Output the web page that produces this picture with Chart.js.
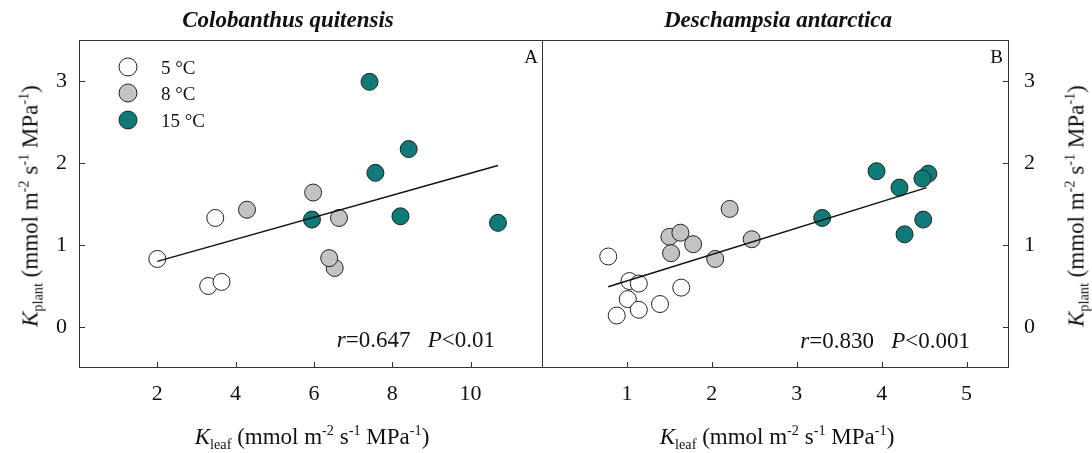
<!DOCTYPE html>
<html>
<head>
<meta charset="utf-8">
<script src="https://cdn.jsdelivr.net/npm/chart.js@4"></script>
<style>
  body { margin: 0; background: #fff; }
  #wrap { position: relative; width: 1092px; height: 453px; font-family: 'Liberation Serif', 'Times New Roman', serif; color: #111; }
  .box { position: absolute; top: 0; height: 453px; }
  .txt { position: absolute; white-space: nowrap; line-height: 1; }
  .ctr { transform: translate(-50%, -50%); }
  .rot { transform: translate(-50%, -50%) rotate(-90deg); }
  sub, sup { font-size: 0.62em; line-height: 0; position: relative; vertical-align: baseline; }
  sub { top: 0.35em; }
  sup { top: -0.6em; }
  .title { font-size: 23px; font-weight: bold; font-style: italic; }
  .axt { font-size: 23px; }
  .stat { font-size: 23px; transform: translate(-100%, -50%); }
  .dot { position: absolute; width: 17px; height: 17px; border-radius: 50%; border: 1px solid #222; transform: translate(-50%, -50%); }
  .leg { font-size: 19px; transform: translate(0, -50%); }
</style>
</head>
<body>
<div id="wrap">
  <div class="box" style="left:0;width:545px"><canvas id="chartA"></canvas></div>
  <div class="box" style="left:541px;width:551px"><canvas id="chartB"></canvas></div>

  <div class="txt title ctr" style="left:288px;top:19px">Colobanthus quitensis</div>
  <div class="txt title ctr" style="left:778px;top:19px">Deschampsia antarctica</div>

  <div class="txt axt ctr" style="left:312px;top:436px"><i>K</i><sub>leaf</sub> (mmol m<sup>-2</sup> s<sup>-1</sup> MPa<sup>-1</sup>)</div>
  <div class="txt axt ctr" style="left:777px;top:436px"><i>K</i><sub>leaf</sub> (mmol m<sup>-2</sup> s<sup>-1</sup> MPa<sup>-1</sup>)</div>

  <div class="txt axt rot" style="left:30px;top:206px"><i>K</i><sub>plant</sub> (mmol m<sup>-2</sup> s<sup>-1</sup> MPa<sup>-1</sup>)</div>
  <div class="txt axt rot" style="left:1076px;top:206px"><i>K</i><sub>plant</sub> (mmol m<sup>-2</sup> s<sup>-1</sup> MPa<sup>-1</sup>)</div>

  <div class="txt stat" style="left:495px;top:339px"><i>r</i>=0.647&nbsp;&nbsp;&nbsp;<i>P</i>&lt;0.01</div>
  <div class="txt stat" style="left:970px;top:340px"><i>r</i>=0.830&nbsp;&nbsp;&nbsp;<i>P</i>&lt;0.001</div>

  <div class="txt" style="left:538px;top:56px;font-size:19px;transform:translate(-100%,-50%)">A</div>
  <div class="txt" style="left:1003px;top:56px;font-size:19px;transform:translate(-100%,-50%)">B</div>

  <div id="legend"></div>
</div>

<script>
// temperature groups
const groups = ['5 °C', '8 °C', '15 °C'];
const fills = ['#ffffff', '#c3c3c3', '#0e7b78'];

// panel A, Colobanthus quitensis
const cqX5 = [2.0, 3.48, 3.30, 3.64];
const cqY5 = [0.83, 1.33, 0.50, 0.55];
const cqX8 = [4.29, 5.98, 6.64, 6.53, 6.39];
const cqY8 = [1.43, 1.64, 1.33, 0.72, 0.84];
const cqX15 = [5.95, 7.42, 8.42, 7.57, 8.21, 10.70];
const cqY15 = [1.31, 2.99, 2.17, 1.88, 1.35, 1.27];
const cqFitX = [2.0, 10.7];
const cqFitY = [0.80, 1.97];

// panel B, Deschampsia antarctica
const daX5 = [0.78, 1.03, 1.14, 1.01, 1.14, 0.88, 1.39, 1.64];
const daY5 = [0.86, 0.56, 0.53, 0.34, 0.21, 0.14, 0.28, 0.48];
const daX8 = [1.50, 1.63, 1.52, 1.78, 2.21, 2.04, 2.47];
const daY8 = [1.10, 1.15, 0.90, 1.01, 1.44, 0.83, 1.07];
const daX15 = [3.94, 4.21, 4.55, 4.48, 4.49, 4.27, 3.30];
const daY15 = [1.90, 1.70, 1.87, 1.81, 1.31, 1.13, 1.33];
const daFitX = [0.78, 4.53];
const daFitY = [0.49, 1.70];

const xTicksA = [2, 4, 6, 8, 10];
const xTicksB = [1, 2, 3, 4, 5];
const yTicks = [0, 1, 2, 3];

const FONT = "'Liberation Serif', 'Times New Roman', serif";
const zip = (xs, ys) => xs.map((x, i) => ({ x: x, y: ys[i] }));

function pointSet(xs, ys, g) {
  return {
    type: 'scatter', data: zip(xs, ys), order: 3 - g,
    backgroundColor: fills[g], borderColor: '#222', borderWidth: 1,
    pointRadius: 8.5, pointHoverRadius: 8.5
  };
}

function fitSet(xs, ys) {
  return {
    type: 'line', data: zip(xs, ys), order: 0,
    borderColor: '#111', borderWidth: 1.5, pointRadius: 0, fill: false
  };
}

// frame box and inward tick marks, placed with the chart's own scales
const framePlugin = {
  id: 'frame',
  beforeDatasetsDraw(chart) {
    const { ctx, chartArea: a, scales } = chart;
    ctx.save();
    ctx.strokeStyle = '#333';
    ctx.lineWidth = 1;
    ctx.strokeRect(Math.round(a.left) + 0.5, Math.round(a.top) + 0.5,
                   Math.round(a.right - a.left) - 1, Math.round(a.bottom - a.top) - 1);
    ctx.beginPath();
    scales.x.ticks.forEach(t => {
      const px = Math.round(scales.x.getPixelForValue(t.value)) + 0.5;
      ctx.moveTo(px, a.bottom);
      ctx.lineTo(px, a.bottom - 6);
    });
    const onRight = scales.y.position === 'right';
    scales.y.ticks.forEach(t => {
      const py = Math.round(scales.y.getPixelForValue(t.value)) + 0.5;
      const x0 = onRight ? a.right : a.left;
      ctx.moveTo(x0, py);
      ctx.lineTo(onRight ? x0 - 6 : x0 + 6, py);
    });
    ctx.stroke();
    ctx.restore();
  }
};

function makeChart(id, datasets, xMax, xTicks, yPos, yWidth, pad) {
  return new Chart(document.getElementById(id), {
    data: { datasets: datasets },
    options: {
      responsive: true, maintainAspectRatio: false, animation: false,
      layout: { padding: pad, autoPadding: false },
      plugins: { legend: { display: false }, tooltip: { enabled: false } },
      scales: {
        x: {
          type: 'linear', position: 'bottom', min: 0, max: xMax,
          grid: { display: false, drawTicks: false }, border: { display: false },
          ticks: { color: '#111', font: { family: FONT, size: 22 }, padding: 13 },
          afterBuildTicks: s => { s.ticks = xTicks.map(v => ({ value: v })); },
          afterFit: s => { s.height = 85; }
        },
        y: {
          type: 'linear', position: yPos, min: -0.5, max: 3.5,
          grid: { display: false, drawTicks: false }, border: { display: false },
          ticks: { color: '#111', font: { family: FONT, size: 22 }, padding: yPos === 'right' ? 15 : 12 },
          afterBuildTicks: s => { s.ticks = yTicks.map(v => ({ value: v })); },
          afterFit: s => { s.width = yWidth; }
        }
      }
    },
    plugins: [framePlugin]
  });
}

makeChart('chartA', [
  fitSet(cqFitX, cqFitY),
  pointSet(cqX5, cqY5, 0), pointSet(cqX8, cqY8, 1), pointSet(cqX15, cqY15, 2)
], 11.85, xTicksA, 'left', 79, { top: 40, right: 2, left: 0, bottom: 0 });

makeChart('chartB', [
  fitSet(daFitX, daFitY),
  pointSet(daX5, daY5, 0), pointSet(daX8, daY8, 1), pointSet(daX15, daY15, 2)
], 5.5, xTicksB, 'right', 83, { top: 40, right: 0, left: 1, bottom: 0 });

// legend inside panel A
const legYs = [67, 93, 120];
document.getElementById('legend').innerHTML = groups.map((g, i) =>
  `<div class="dot" style="left:128px;top:${legYs[i]}px;background:${fills[i]}"></div>` +
  `<div class="txt leg" style="left:161px;top:${legYs[i]}px">${g}</div>`
).join('');
</script>
</body>
</html>
